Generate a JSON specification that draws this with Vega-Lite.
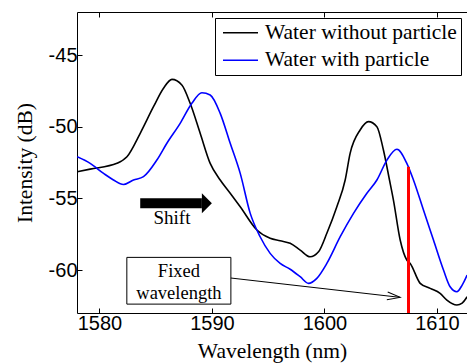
{
  "$schema": "https://vega.github.io/schema/vega-lite/v6.json",
  "width": 390,
  "height": 301,
  "autosize": "none",
  "padding": {"left": 77, "top": 12, "right": 0, "bottom": 51},
  "background": "white",
  "config": {
    "view": {"stroke": null},
    "axis": {
      "grid": false,
      "domainColor": "black",
      "tickColor": "black",
      "labelColor": "black",
      "labelFont": "Liberation Sans",
      "labelFontSize": 20,
      "titleFont": "Liberation Serif",
      "titleFontSize": 21.5,
      "titleFontWeight": "normal",
      "titleColor": "black",
      "tickSize": -5,
      "domainWidth": 1,
      "tickWidth": 1
    }
  },
  "datasets": {
    "spectra": [
      {"wavelength": 1578.02, "intensity": -53.14, "series": "Water without particle"},
      {"wavelength": 1579.17, "intensity": -52.96, "series": "Water without particle"},
      {"wavelength": 1581.55, "intensity": -52.56, "series": "Water without particle"},
      {"wavelength": 1582.44, "intensity": -52.10, "series": "Water without particle"},
      {"wavelength": 1583.62, "intensity": -50.46, "series": "Water without particle"},
      {"wavelength": 1584.80, "intensity": -48.61, "series": "Water without particle"},
      {"wavelength": 1585.69, "intensity": -47.32, "series": "Water without particle"},
      {"wavelength": 1586.44, "intensity": -46.70, "series": "Water without particle"},
      {"wavelength": 1587.32, "intensity": -47.09, "series": "Water without particle"},
      {"wavelength": 1588.06, "intensity": -48.37, "series": "Water without particle"},
      {"wavelength": 1588.95, "intensity": -50.46, "series": "Water without particle"},
      {"wavelength": 1589.84, "intensity": -52.56, "series": "Water without particle"},
      {"wavelength": 1590.73, "intensity": -53.72, "series": "Water without particle"},
      {"wavelength": 1591.62, "intensity": -54.65, "series": "Water without particle"},
      {"wavelength": 1592.51, "intensity": -55.59, "series": "Water without particle"},
      {"wavelength": 1593.99, "intensity": -57.21, "series": "Water without particle"},
      {"wavelength": 1595.17, "intensity": -57.79, "series": "Water without particle"},
      {"wavelength": 1596.06, "intensity": -57.96, "series": "Water without particle"},
      {"wavelength": 1596.95, "intensity": -58.14, "series": "Water without particle"},
      {"wavelength": 1597.84, "intensity": -58.61, "series": "Water without particle"},
      {"wavelength": 1598.72, "intensity": -59.08, "series": "Water without particle"},
      {"wavelength": 1599.47, "intensity": -58.73, "series": "Water without particle"},
      {"wavelength": 1600.21, "intensity": -57.44, "series": "Water without particle"},
      {"wavelength": 1601.10, "intensity": -55.59, "series": "Water without particle"},
      {"wavelength": 1601.84, "intensity": -53.72, "series": "Water without particle"},
      {"wavelength": 1602.28, "intensity": -51.86, "series": "Water without particle"},
      {"wavelength": 1603.17, "intensity": -50.23, "series": "Water without particle"},
      {"wavelength": 1603.91, "intensity": -49.65, "series": "Water without particle"},
      {"wavelength": 1604.66, "intensity": -50.00, "series": "Water without particle"},
      {"wavelength": 1605.24, "intensity": -51.63, "series": "Water without particle"},
      {"wavelength": 1605.78, "intensity": -53.72, "series": "Water without particle"},
      {"wavelength": 1606.13, "intensity": -55.12, "series": "Water without particle"},
      {"wavelength": 1606.73, "intensity": -57.91, "series": "Water without particle"},
      {"wavelength": 1607.32, "intensity": -59.31, "series": "Water without particle"},
      {"wavelength": 1607.62, "intensity": -59.54, "series": "Water without particle"},
      {"wavelength": 1608.51, "intensity": -60.93, "series": "Water without particle"},
      {"wavelength": 1609.40, "intensity": -61.28, "series": "Water without particle"},
      {"wavelength": 1610.28, "intensity": -61.63, "series": "Water without particle"},
      {"wavelength": 1610.88, "intensity": -62.10, "series": "Water without particle"},
      {"wavelength": 1611.77, "intensity": -62.44, "series": "Water without particle"},
      {"wavelength": 1612.24, "intensity": -62.31, "series": "Water without particle"},
      {"wavelength": 1612.68, "intensity": -61.87, "series": "Water without particle"},
      {"wavelength": 1578.02, "intensity": -52.10, "series": "Water with particle"},
      {"wavelength": 1579.17, "intensity": -52.56, "series": "Water with particle"},
      {"wavelength": 1580.36, "intensity": -53.26, "series": "Water with particle"},
      {"wavelength": 1581.24, "intensity": -53.72, "series": "Water with particle"},
      {"wavelength": 1582.13, "intensity": -54.04, "series": "Water with particle"},
      {"wavelength": 1583.02, "intensity": -53.72, "series": "Water with particle"},
      {"wavelength": 1583.91, "intensity": -53.49, "series": "Water with particle"},
      {"wavelength": 1585.10, "intensity": -52.33, "series": "Water with particle"},
      {"wavelength": 1585.99, "intensity": -51.16, "series": "Water with particle"},
      {"wavelength": 1587.17, "intensity": -49.77, "series": "Water with particle"},
      {"wavelength": 1588.21, "intensity": -48.37, "series": "Water with particle"},
      {"wavelength": 1589.10, "intensity": -47.63, "series": "Water with particle"},
      {"wavelength": 1589.84, "intensity": -47.79, "series": "Water with particle"},
      {"wavelength": 1590.73, "intensity": -49.07, "series": "Water with particle"},
      {"wavelength": 1591.62, "intensity": -51.16, "series": "Water with particle"},
      {"wavelength": 1592.51, "intensity": -53.26, "series": "Water with particle"},
      {"wavelength": 1593.40, "intensity": -56.05, "series": "Water with particle"},
      {"wavelength": 1594.28, "intensity": -57.68, "series": "Water with particle"},
      {"wavelength": 1595.17, "intensity": -58.84, "series": "Water with particle"},
      {"wavelength": 1596.06, "intensity": -59.54, "series": "Water with particle"},
      {"wavelength": 1596.95, "intensity": -59.95, "series": "Water with particle"},
      {"wavelength": 1597.84, "intensity": -60.47, "series": "Water with particle"},
      {"wavelength": 1598.58, "intensity": -60.93, "series": "Water with particle"},
      {"wavelength": 1599.32, "intensity": -60.58, "series": "Water with particle"},
      {"wavelength": 1600.21, "intensity": -59.54, "series": "Water with particle"},
      {"wavelength": 1601.40, "intensity": -57.68, "series": "Water with particle"},
      {"wavelength": 1602.58, "intensity": -56.05, "series": "Water with particle"},
      {"wavelength": 1603.77, "intensity": -54.65, "series": "Water with particle"},
      {"wavelength": 1604.66, "intensity": -53.72, "series": "Water with particle"},
      {"wavelength": 1605.55, "intensity": -52.33, "series": "Water with particle"},
      {"wavelength": 1606.44, "intensity": -51.58, "series": "Water with particle"},
      {"wavelength": 1607.32, "intensity": -52.56, "series": "Water with particle"},
      {"wavelength": 1607.91, "intensity": -53.72, "series": "Water with particle"},
      {"wavelength": 1608.80, "intensity": -55.82, "series": "Water with particle"},
      {"wavelength": 1609.69, "intensity": -57.91, "series": "Water with particle"},
      {"wavelength": 1610.58, "intensity": -60.00, "series": "Water with particle"},
      {"wavelength": 1611.17, "intensity": -61.17, "series": "Water with particle"},
      {"wavelength": 1611.77, "intensity": -61.52, "series": "Water with particle"},
      {"wavelength": 1612.24, "intensity": -61.05, "series": "Water with particle"},
      {"wavelength": 1612.68, "intensity": -60.35, "series": "Water with particle"}
    ],
    "marker": [{"wavelength": 1607.47, "top": -52.8, "bottom": -63}],
    "box": [{"x1": 1582.43, "x2": 1591.68, "y1": -59.12, "y2": -62.38}],
    "boxText": [
      {"x": 1587.06, "y": -60.05, "label": "Fixed"},
      {"x": 1587.06, "y": -61.63, "label": "wavelength"}
    ],
    "pointer": [{"x1": 1591.68, "y1": -60.56, "x2": 1606.73, "y2": -61.91}],
    "shift": [{"x1": 1583.62, "x2": 1589.1, "y": -55.35}],
    "shiftText": [{"x": 1586.44, "y": -56.4, "label": "Shift"}]
  },
  "resolve": {"axis": {"x": "independent"}},
  "layer": [
    {
      "data": {"name": "spectra"},
      "mark": {"type": "line", "strokeWidth": 1.6, "clip": true, "interpolate": "monotone"},
      "encoding": {
        "x": {
          "field": "wavelength", "type": "quantitative",
          "scale": {"domain": [1578, 1612.67], "nice": false, "zero": false},
          "axis": {"values": [1580, 1590, 1600, 1610], "labelPadding": 5, "labelExpr": "datum.value + ''", "title": "Wavelength (nm)", "titleY": 44, "titleBaseline": "alphabetic"}
        },
        "y": {
          "field": "intensity", "type": "quantitative",
          "scale": {"domain": [-63, -42], "nice": false, "zero": false},
          "axis": {"values": [-60, -55, -50, -45], "labelPadding": 5, "labelExpr": "datum.value + ''", "title": "Intensity (dB)", "titleX": -52, "titleY": 150.5, "titleBaseline": "middle", "titleAngle": 270}
        },
        "color": {
          "field": "series", "type": "nominal",
          "scale": {"domain": ["Water without particle", "Water with particle"], "range": ["#000000", "#0000ff"]},
          "legend": {
            "orient": "none", "legendX": 138, "legendY": 6, "title": null,
            "symbolType": "M-1.35,0L5.65,0", "symbolSize": 100, "symbolStrokeWidth": 1.5,
            "labelFont": "Liberation Serif", "labelFontSize": 21.5, "labelColor": "black", "labelOffset": 24.5, "labelLimit": 0,
            "strokeColor": "black", "fillColor": "white", "padding": 4, "rowPadding": 4.5
          }
        }
      }
    },
    {
      "data": {"name": "marker"},
      "mark": {"type": "rule", "color": "#ff0000", "strokeWidth": 3},
      "encoding": {
        "x": {"field": "wavelength", "type": "quantitative",
          "axis": {"orient": "top", "values": [1580, 1590, 1600, 1610], "labels": false, "title": null, "ticks": true, "tickSize": -5}},
        "y": {"field": "top", "type": "quantitative"},
        "y2": {"field": "bottom"}
      }
    },
    {
      "data": {"name": "box"},
      "mark": {"type": "rect", "fill": "white", "stroke": "black", "strokeWidth": 1},
      "encoding": {
        "x": {"field": "x1", "type": "quantitative", "axis": null},
        "x2": {"field": "x2"},
        "y": {"field": "y1", "type": "quantitative"},
        "y2": {"field": "y2"}
      }
    },
    {
      "data": {"name": "boxText"},
      "mark": {"type": "text", "font": "Liberation Serif", "fontSize": 18.5, "color": "black", "baseline": "middle", "align": "center"},
      "encoding": {
        "x": {"field": "x", "type": "quantitative", "axis": null},
        "y": {"field": "y", "type": "quantitative"},
        "text": {"field": "label"}
      }
    },
    {
      "data": {"name": "pointer"},
      "mark": {"type": "rule", "color": "black", "strokeWidth": 1},
      "encoding": {
        "x": {"field": "x1", "type": "quantitative", "axis": null},
        "x2": {"field": "x2"},
        "y": {"field": "y1", "type": "quantitative"},
        "y2": {"field": "y2"}
      }
    },
    {
      "data": {"name": "pointer"},
      "mark": {"type": "point", "shape": "M-1,-0.3L0,0L-1,0.3", "size": 676, "filled": false, "stroke": "black", "strokeWidth": 1, "angle": 6.5, "opacity": 1},
      "encoding": {
        "x": {"field": "x2", "type": "quantitative", "axis": null},
        "y": {"field": "y2", "type": "quantitative"}
      }
    },
    {
      "data": {"name": "shift"},
      "mark": {"type": "rule", "color": "black", "strokeWidth": 10, "strokeCap": "butt"},
      "encoding": {
        "x": {"field": "x1", "type": "quantitative", "axis": null},
        "x2": {"field": "x2"},
        "y": {"field": "y", "type": "quantitative"}
      }
    },
    {
      "data": {"name": "shift"},
      "mark": {"type": "point", "shape": "M0,-1L1,0L0,1Z", "size": 400, "filled": true, "color": "black", "opacity": 1},
      "encoding": {
        "x": {"field": "x2", "type": "quantitative", "axis": null},
        "y": {"field": "y", "type": "quantitative"}
      }
    },
    {
      "data": {"name": "shiftText"},
      "mark": {"type": "text", "font": "Liberation Serif", "fontSize": 19, "color": "black", "baseline": "middle", "align": "center"},
      "encoding": {
        "x": {"field": "x", "type": "quantitative", "axis": null},
        "y": {"field": "y", "type": "quantitative"},
        "text": {"field": "label"}
      }
    }
  ]
}
